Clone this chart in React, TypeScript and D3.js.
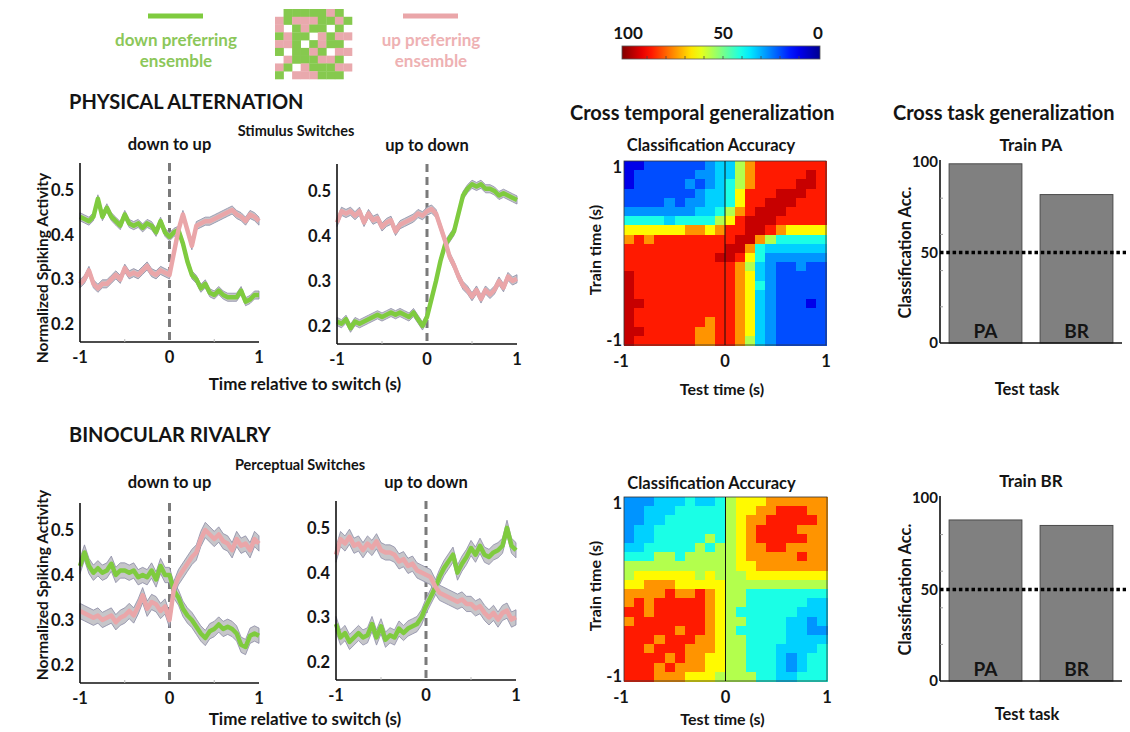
import React from 'react';
import * as d3 from 'd3';

const FONT = "Lato, 'Open Sans', 'DejaVu Sans', sans-serif";
const GREEN = '#7fcb3f';
const PINK = '#eaa6a9';
const BAND_FILL = '#c6c6ca';
const BAND_EDGE = '#8c8ca6';

// sample times, -1..1 s in 50 ms steps
const timePoints = d3.range(41).map((i) => -1 + i * 0.05);

// physical alternation, down to up
const paDownUpGreen = [0.44, 0.435, 0.43, 0.44, 0.48, 0.44, 0.46, 0.44, 0.43, 0.42, 0.445, 0.425, 0.42, 0.425, 0.415, 0.425, 0.42, 0.405, 0.43, 0.405, 0.395, 0.405, 0.41, 0.38, 0.34, 0.31, 0.3, 0.28, 0.29, 0.27, 0.265, 0.275, 0.265, 0.26, 0.26, 0.26, 0.275, 0.25, 0.255, 0.265, 0.265];
const paDownUpPink = [0.29, 0.3, 0.32, 0.29, 0.28, 0.29, 0.29, 0.3, 0.31, 0.3, 0.325, 0.31, 0.315, 0.31, 0.32, 0.33, 0.315, 0.31, 0.32, 0.315, 0.31, 0.36, 0.41, 0.445, 0.41, 0.375, 0.42, 0.425, 0.43, 0.43, 0.435, 0.44, 0.445, 0.45, 0.455, 0.445, 0.44, 0.43, 0.445, 0.44, 0.43];
// physical alternation, up to down
const paUpDownGreen = [0.21, 0.205, 0.215, 0.195, 0.21, 0.205, 0.21, 0.215, 0.22, 0.225, 0.22, 0.225, 0.23, 0.225, 0.23, 0.225, 0.22, 0.23, 0.215, 0.2, 0.22, 0.26, 0.3, 0.345, 0.38, 0.395, 0.41, 0.45, 0.49, 0.505, 0.515, 0.51, 0.515, 0.505, 0.505, 0.5, 0.49, 0.495, 0.49, 0.485, 0.48];
const paUpDownPink = [0.43, 0.455, 0.45, 0.455, 0.445, 0.455, 0.43, 0.45, 0.435, 0.44, 0.42, 0.43, 0.435, 0.41, 0.425, 0.43, 0.435, 0.44, 0.45, 0.445, 0.455, 0.46, 0.45, 0.42, 0.39, 0.355, 0.335, 0.31, 0.29, 0.28, 0.265, 0.28, 0.26, 0.28, 0.27, 0.28, 0.3, 0.285, 0.31, 0.3, 0.305];
// binocular rivalry, down to up
const brDownUpGreen = [0.42, 0.45, 0.42, 0.405, 0.415, 0.405, 0.41, 0.425, 0.4, 0.41, 0.41, 0.405, 0.41, 0.395, 0.4, 0.395, 0.41, 0.39, 0.42, 0.4, 0.4, 0.365, 0.35, 0.325, 0.31, 0.3, 0.285, 0.27, 0.26, 0.275, 0.28, 0.29, 0.28, 0.285, 0.28, 0.27, 0.245, 0.24, 0.265, 0.27, 0.265];
const brDownUpPink = [0.32, 0.315, 0.31, 0.305, 0.31, 0.3, 0.305, 0.31, 0.295, 0.305, 0.31, 0.32, 0.31, 0.33, 0.355, 0.325, 0.34, 0.335, 0.32, 0.33, 0.3, 0.37, 0.395, 0.41, 0.425, 0.44, 0.45, 0.48, 0.5, 0.49, 0.48, 0.49, 0.475, 0.47, 0.455, 0.48, 0.465, 0.47, 0.455, 0.48, 0.47];
// binocular rivalry, up to down
const brUpDownGreen = [0.285, 0.255, 0.265, 0.245, 0.255, 0.265, 0.255, 0.26, 0.285, 0.255, 0.28, 0.25, 0.26, 0.255, 0.275, 0.265, 0.275, 0.28, 0.285, 0.3, 0.325, 0.345, 0.365, 0.39, 0.41, 0.425, 0.44, 0.4, 0.42, 0.435, 0.455, 0.44, 0.46, 0.44, 0.435, 0.445, 0.45, 0.46, 0.5, 0.46, 0.45];
const brUpDownPink = [0.44, 0.475, 0.465, 0.48, 0.46, 0.465, 0.45, 0.465, 0.455, 0.47, 0.45, 0.445, 0.445, 0.44, 0.425, 0.43, 0.415, 0.42, 0.405, 0.4, 0.395, 0.39, 0.37, 0.355, 0.35, 0.345, 0.34, 0.335, 0.34, 0.33, 0.33, 0.32, 0.325, 0.31, 0.3, 0.31, 0.295, 0.31, 0.315, 0.295, 0.3];

const semPA = 0.009;
const semBR = 0.017;

// accuracy (%) for each digit code used in the grids below
const codeAccuracy = [10, 20, 27, 33, 40, 55, 63, 73, 85, 93];

// cross temporal generalization, rows = train time 1 -> -1, cols = test time -1 -> 1
const paGeneralization = [
  '00111111233578888888',
  '01111112233578888898',
  '01111121234578888998',
  '11111112334688899988',
  '11112122334688999888',
  '22222223345789998888',
  '44443444456899988888',
  '66666677678899876666',
  '78788888888997544444',
  '88888888889974333333',
  '88888888899864222222',
  '88888888888753211211',
  '98888888888763211111',
  '98888888888764211111',
  '98888888888763211111',
  '99888888888763211101',
  '98888888888763211111',
  '98888888788763211111',
  '99888887788763211111',
  '98888887788753211111',
];
const brGeneralization = [
  '22233343345666777777',
  '22333444445667788877',
  '22334444445677888887',
  '23344444445678888777',
  '23344444545678888877',
  '33444445455677887777',
  '44455455555677777877',
  '55555555555667777777',
  '56666665655566666666',
  '66777666665555555555',
  '77778778765544444444',
  '78788888765544444433',
  '88788888765444444333',
  '78888888765544443323',
  '88888788765444443322',
  '88878887765544443333',
  '88788877765544433334',
  '88887877665544432344',
  '88878777665544432344',
  '88877766655554433444',
];

const testTasks = ['PA', 'BR'];
const trainPAAcc = [99, 82];
const trainBRAcc = [88, 85];
const chanceLevel = 50;

const colorbarTicks = [100, 50, 0];

// legend mosaic, g = down preferring, p = up preferring
const mosaic = [
  '.gggggpg.',
  'pgpppggpg',
  'p.gpgg.g.',
  'gpgg.pgpp',
  'ppg.gpgg.',
  'g.ggpg.pp',
  '.pgggppg.',
  'pg.pgggpp',
  'g.pppggg.',
];

const jet = d3
  .scaleLinear<string>()
  .domain([0, 12.5, 37.5, 62.5, 87.5, 100])
  .range(['#000090', '#0000ff', '#00ffff', '#ffff00', '#ff0000', '#800000'])
  .clamp(true);

const txt = { fontFamily: FONT, fontWeight: 700, fill: '#141414' } as const;

function LinePanel({ x0, y0, w, h, green, pink, sem, title, titleGap }) {
  const x = d3.scaleLinear().domain([-1, 1]).range([x0, x0 + w]);
  const y = d3.scaleLinear().domain([0.16, 0.56]).range([y0 + h, y0]);
  const band = d3
    .area<number>()
    .x((_, i) => x(timePoints[i]))
    .y0((d) => y(d - sem))
    .y1((d) => y(d + sem));
  const line = d3
    .line<number>()
    .x((_, i) => x(timePoints[i]))
    .y((d) => y(d));

  return (
    <g>
      <text {...txt} x={x(0)} y={y0 - titleGap} fontSize={16.5} textAnchor="middle">
        {title}
      </text>
      <line x1={x(0)} x2={x(0)} y1={y0} y2={y0 + h} stroke="#7a7a7a" strokeWidth={3} strokeDasharray="8,5" />
      <path d={band(green)} fill={BAND_FILL} stroke={BAND_EDGE} strokeWidth={0.8} />
      <path d={band(pink)} fill={BAND_FILL} stroke={BAND_EDGE} strokeWidth={0.8} />
      <path d={line(green)} fill="none" stroke={GREEN} strokeWidth={4.5} strokeLinejoin="round" />
      <path d={line(pink)} fill="none" stroke={PINK} strokeWidth={4.5} strokeLinejoin="round" />
      <line x1={x0} x2={x0} y1={y0} y2={y0 + h} stroke="#111" strokeWidth={1.6} />
      <line x1={x0} x2={x0 + w} y1={y0 + h} y2={y0 + h} stroke="#111" strokeWidth={1.6} />
      {[-0.5, 0.5].map((t) => (
        <line key={t} x1={x(t)} x2={x(t)} y1={y0 + h} y2={y0 + h - 3} stroke="#bbb" />
      ))}
      {[0.2, 0.3, 0.4, 0.5].map((v) => (
        <text key={v} {...txt} x={x0 - 6} y={y(v)} dy="0.36em" fontSize={16.5} textAnchor="end">
          {v.toFixed(1)}
        </text>
      ))}
      {[-1, 0, 1].map((t) => (
        <text key={t} {...txt} x={x(t)} y={y0 + h + 21} fontSize={16.5} textAnchor="middle">
          {t}
        </text>
      ))}
    </g>
  );
}

function Heatmap({ x0, y0, w, h, grid, titleGap, xLabelGap }) {
  const n = grid.length;
  const col = d3.scaleBand<number>().domain(d3.range(n)).range([x0, x0 + w]);
  const row = d3.scaleBand<number>().domain(d3.range(n)).range([y0, y0 + h]);
  const tx = d3.scaleLinear().domain([-1, 1]).range([x0, x0 + w]);
  const ty = d3.scaleLinear().domain([-1, 1]).range([y0 + h - 5, y0 + 6]);

  return (
    <g>
      <text {...txt} x={x0 + w / 2 - 14} y={y0 - titleGap} fontSize={16.5} textAnchor="middle">
        Classification Accuracy
      </text>
      {grid.map((r, ri) =>
        r.split('').map((c, ci) => (
          <rect
            key={ri + '-' + ci}
            x={col(ci)}
            y={row(ri)}
            width={col.bandwidth() + 0.5}
            height={row.bandwidth() + 0.5}
            fill={jet(codeAccuracy[+c])}
            shapeRendering="crispEdges"
          />
        ))
      )}
      <rect x={x0} y={y0} width={w} height={h} fill="none" stroke="#333" strokeWidth={0.8} />
      <line x1={tx(0)} x2={tx(0)} y1={y0} y2={y0 + h} stroke="#111" strokeWidth={1} />
      {[1, -1].map((v) => (
        <text key={v} {...txt} x={x0 - 2} y={ty(v)} dy="0.36em" fontSize={16.5} textAnchor="end">
          {v}
        </text>
      ))}
      {[-1, 0, 1].map((v) => (
        <text key={v} {...txt} x={tx(v) - (v === -1 ? 3 : 0)} y={y0 + h + 22} fontSize={16.5} textAnchor="middle">
          {v}
        </text>
      ))}
      <text {...txt} x={tx(0) - 3} y={y0 + h + xLabelGap} fontSize={16} textAnchor="middle">
        Test time (s)
      </text>
      <text
        {...txt}
        transform={`translate(${x0 - 23},${y0 + h / 2 - 3}) rotate(-90)`}
        fontSize={16}
        textAnchor="middle"
      >
        Train time (s)
      </text>
    </g>
  );
}

function BarPanel({ x0, y0, w, h, values, title, xLabelGap }) {
  const x = d3.scaleBand<string>().domain(testTasks).range([x0, x0 + w]).paddingInner(0.2).paddingOuter(0.1);
  const y = d3.scaleLinear().domain([0, 100]).range([y0 + h, y0]);

  return (
    <g>
      <text {...txt} x={x0 + w / 2} y={y0 - 11} fontSize={17} textAnchor="middle">
        {title}
      </text>
      {values.map((v, i) => (
        <g key={testTasks[i]}>
          <rect
            x={x(testTasks[i])}
            y={y(v)}
            width={x.bandwidth()}
            height={y(0) - y(v)}
            fill="#808080"
            stroke="#4a4a4a"
            strokeWidth={1}
          />
          <text
            {...txt}
            x={x(testTasks[i])! + x.bandwidth() / 2}
            y={y(0) - 5}
            fontSize={19}
            textAnchor="middle"
          >
            {testTasks[i]}
          </text>
        </g>
      ))}
      <line x1={x0} x2={x0} y1={y(100) - 2} y2={y(0)} stroke="#111" strokeWidth={1.6} />
      <line x1={x0} x2={x0 + w} y1={y(0)} y2={y(0)} stroke="#111" strokeWidth={1.6} />
      {[20, 40, 60, 80].map((v) => (
        <line key={v} x1={x0} x2={x0 + 3} y1={y(v)} y2={y(v)} stroke="#999" />
      ))}
      <line
        x1={x0}
        x2={x0 + w + 4}
        y1={y(chanceLevel)}
        y2={y(chanceLevel)}
        stroke="#000"
        strokeWidth={3.5}
        strokeDasharray="3.5,2.8"
      />
      {[100, 50, 0].map((v) => (
        <text key={v} {...txt} x={x0 - 2} y={y(v)} dy="0.36em" fontSize={15} textAnchor="end">
          {v}
        </text>
      ))}
      <text {...txt} x={x0 + w / 2 - 4} y={y(0) + xLabelGap} fontSize={16.5} textAnchor="middle">
        Test task
      </text>
      <text
        {...txt}
        transform={`translate(${x0 - 29},${y0 + h / 2}) rotate(-90)`}
        fontSize={16.5}
        textAnchor="middle"
      >
        Classification Acc.
      </text>
    </g>
  );
}

function Legend() {
  const mx = d3.scaleBand<number>().domain(d3.range(9)).range([275, 352]);
  const my = d3.scaleBand<number>().domain(d3.range(9)).range([9, 79]);
  return (
    <g>
      <line x1={148} x2={203} y1={16} y2={16} stroke={GREEN} strokeWidth={5} />
      <text {...txt} fill="#8cc75a" x={176} y={46} fontSize={17} textAnchor="middle">
        down preferring
      </text>
      <text {...txt} fill="#8cc75a" x={176} y={67} fontSize={17} textAnchor="middle">
        ensemble
      </text>
      <line x1={403} x2={458} y1={16} y2={16} stroke={PINK} strokeWidth={5} />
      <text {...txt} fill="#eeb1b3" x={431} y={46} fontSize={17} textAnchor="middle">
        up preferring
      </text>
      <text {...txt} fill="#eeb1b3" x={431} y={67} fontSize={17} textAnchor="middle">
        ensemble
      </text>
      {mosaic.map((r, ri) =>
        r.split('').map((c, ci) =>
          c === '.' ? null : (
            <rect
              key={ri + '-' + ci}
              x={mx(ci)}
              y={my(ri)}
              width={mx.bandwidth() + 0.3}
              height={my.bandwidth() + 0.3}
              fill={c === 'g' ? '#86c94e' : '#e9a9ad'}
            />
          )
        )
      )}
    </g>
  );
}

function Colorbar() {
  const x = d3.scaleLinear().domain([100, 0]).range([628, 818]);
  const stops = d3.range(0, 1.0001, 0.05);
  return (
    <g>
      <defs>
        <linearGradient id="jetbar" x1="0" x2="1" y1="0" y2="0">
          {stops.map((s) => (
            <stop key={s} offset={s} stopColor={jet(100 - s * 100)} />
          ))}
        </linearGradient>
      </defs>
      <rect x={622} y={46} width={198} height={13} fill="url(#jetbar)" stroke="#555" strokeWidth={0.8} />
      {d3.range(10, 100, 10).map((v) => (
        <line key={v} x1={x(v)} x2={x(v)} y1={59} y2={56} stroke="#444" strokeWidth={0.8} />
      ))}
      {colorbarTicks.map((v) => (
        <text key={v} {...txt} x={x(v)} y={39} fontSize={17} textAnchor="middle">
          {v}
        </text>
      ))}
    </g>
  );
}

export default function App() {
  return (
    <svg
      width={1130}
      height={732}
      viewBox="0 0 1130 732"
      style={{ position: 'absolute', left: 0, top: 0, background: '#fff' }}
    >
      <rect width={1130} height={732} fill="#fff" />
      <Legend />
      <Colorbar />

      <text {...txt} x={69} y={109} fontSize={20}>PHYSICAL ALTERNATION</text>
      <text {...txt} x={69} y={442} fontSize={20}>BINOCULAR RIVALRY</text>
      <text {...txt} x={570} y={120} fontSize={20}>Cross temporal generalization</text>
      <text {...txt} x={893} y={120} fontSize={20}>Cross task generalization</text>

      <text {...txt} x={296} y={136} fontSize={14.5} textAnchor="middle">Stimulus Switches</text>
      <text {...txt} x={300} y={470} fontSize={14.5} textAnchor="middle">Perceptual Switches</text>

      <LinePanel x0={80} y0={163} w={179} h={179} green={paDownUpGreen} pink={paDownUpPink} sem={semPA} title="down to up" titleGap={13} />
      <LinePanel x0={337} y0={164} w={180} h={180} green={paUpDownGreen} pink={paUpDownPink} sem={semPA} title="up to down" titleGap={13} />
      <LinePanel x0={80} y0={503} w={179} h={180} green={brDownUpGreen} pink={brDownUpPink} sem={semBR} title="down to up" titleGap={15} />
      <LinePanel x0={336} y0={501} w={180} h={179} green={brUpDownGreen} pink={brUpDownPink} sem={semBR} title="up to down" titleGap={13} />

      <text {...txt} transform="translate(48,268) rotate(-90)" fontSize={15.5} textAnchor="middle">
        Normalized Spiking Activity
      </text>
      <text {...txt} transform="translate(48,585) rotate(-90)" fontSize={15.5} textAnchor="middle">
        Normalized Spiking Activity
      </text>
      <text {...txt} x={305} y={390} fontSize={17} textAnchor="middle">Time relative to switch (s)</text>
      <text {...txt} x={305} y={725} fontSize={17} textAnchor="middle">Time relative to switch (s)</text>

      <Heatmap x0={624} y0={161} w={202} h={184} grid={paGeneralization} titleGap={10} xLabelGap={50} />
      <Heatmap x0={624} y0={497} w={203} h={184} grid={brGeneralization} titleGap={8} xLabelGap={44} />

      <BarPanel x0={940} y0={162} w={182} h={181} values={trainPAAcc} title="Train PA" xLabelGap={52} />
      <BarPanel x0={940} y0={498} w={182} h={183} values={trainBRAcc} title="Train BR" xLabelGap={39} />
    </svg>
  );
}
